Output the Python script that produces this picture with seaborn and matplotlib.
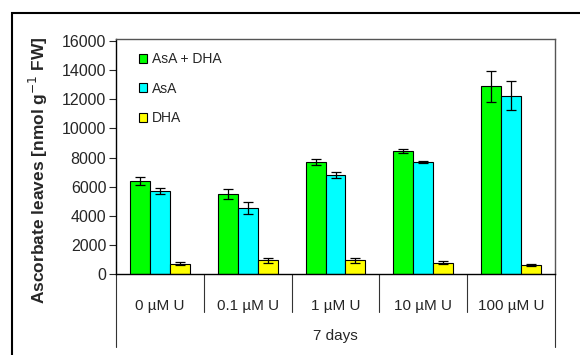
import matplotlib
matplotlib.use('Agg')
import matplotlib.pyplot as plt
import matplotlib.patches as mpatches
import seaborn as sns
import pandas as pd

# values
groups = ['0 µM U', '0.1 µM U', '1 µM U', '10 µM U', '100 µM U']
series = ['AsA + DHA', 'AsA', 'DHA']
total = [6400, 5500, 7700, 8450, 12900]
total_err = [250, 330, 220, 120, 1050]
asa = [5700, 4550, 6800, 7700, 12250]
asa_err = [200, 400, 180, 100, 1000]
dha = [720, 950, 950, 780, 620]
dha_err = [80, 160, 170, 100, 70]
colors = ['#00ff00', '#00ffff', '#ffff00']

df = pd.DataFrame({
    'group': groups * 3,
    'series': [s for s in series for _ in groups],
    'value': total + asa + dha,
})
errs = [total_err, asa_err, dha_err]

sns.set_style('white')
plt.rcParams['font.family'] = ['Liberation Sans', 'DejaVu Sans']

fig = plt.figure(figsize=(5.8, 3.55), dpi=100)
ax = fig.add_axes([116 / 580, 1 - 274 / 355, (555 - 116) / 580, (274 - 39) / 355])

sns.barplot(data=df, x='group', y='value', hue='series', order=groups,
            hue_order=series, palette=colors, saturation=1, errorbar=None,
            width=0.68, edgecolor='black', linewidth=0.8, ax=ax, legend=False)

# error bars on top of each bar
for cont, e in zip(ax.containers, errs):
    xs = [p.get_x() + p.get_width() / 2 for p in cont]
    hs = [p.get_height() for p in cont]
    ax.errorbar(xs, hs, yerr=e, fmt='none', ecolor='black', elinewidth=0.9,
                capsize=3.5, capthick=0.9)

ax.set_xlim(-0.5, 4.5)
ax.set_ylim(0, 16150)
ax.set_yticks(range(0, 16001, 2000))
ax.tick_params(axis='y', direction='out', length=5, width=0.8, labelsize=11.5,
               left=True, pad=2)
ax.tick_params(axis='x', length=0, labelsize=11, pad=18)
ax.set_xticks(range(len(groups)))
ax.set_xticklabels(groups)
ax.set_xlabel('')
ax.set_ylabel('')

for side in ['left', 'bottom']:
    ax.spines[side].set_color('black')
    ax.spines[side].set_linewidth(1)
for side in ['top', 'right']:
    ax.spines[side].set_visible(True)
    ax.spines[side].set_color('#555555')
    ax.spines[side].set_linewidth(1)

# category separators under the axis
trans = ax.get_xaxis_transform()
for b in [0.5, 1.5, 2.5, 3.5]:
    ax.plot([b, b], [0, -38 / 235], color='#333333', lw=0.8,
            transform=trans, clip_on=False)
for b in [-0.5, 4.5]:
    ax.plot([b, b], [0, -73 / 235], color='#333333', lw=0.8,
            transform=trans, clip_on=False)
ax.text(2, -62 / 235, '7 days', transform=trans, ha='center', va='center',
        fontsize=11)

handles = [mpatches.Patch(facecolor=c, edgecolor='black', linewidth=0.8)
           for c in colors]
ax.legend(handles, series, loc='upper left', bbox_to_anchor=(0.04, 0.968),
          frameon=False, fontsize=10, handlelength=0.6, handleheight=0.6,
          handletextpad=0.35, labelspacing=1.12, borderaxespad=0)

fig.text(38 / 580, 1 - 170 / 355, 'Ascorbate leaves [nmol g$^{-1}$ FW]',
         rotation=90, ha='center', va='center', fontsize=12.5,
         fontweight='bold')

# outer frame around the whole figure
fig.patches.append(mpatches.Rectangle((12 / 580, -0.2), 1.2, 1.2 - 13 / 355,
                                      transform=fig.transFigure, fill=False,
                                      edgecolor='black', linewidth=1.5))

fig.savefig('out.png', dpi=100)
